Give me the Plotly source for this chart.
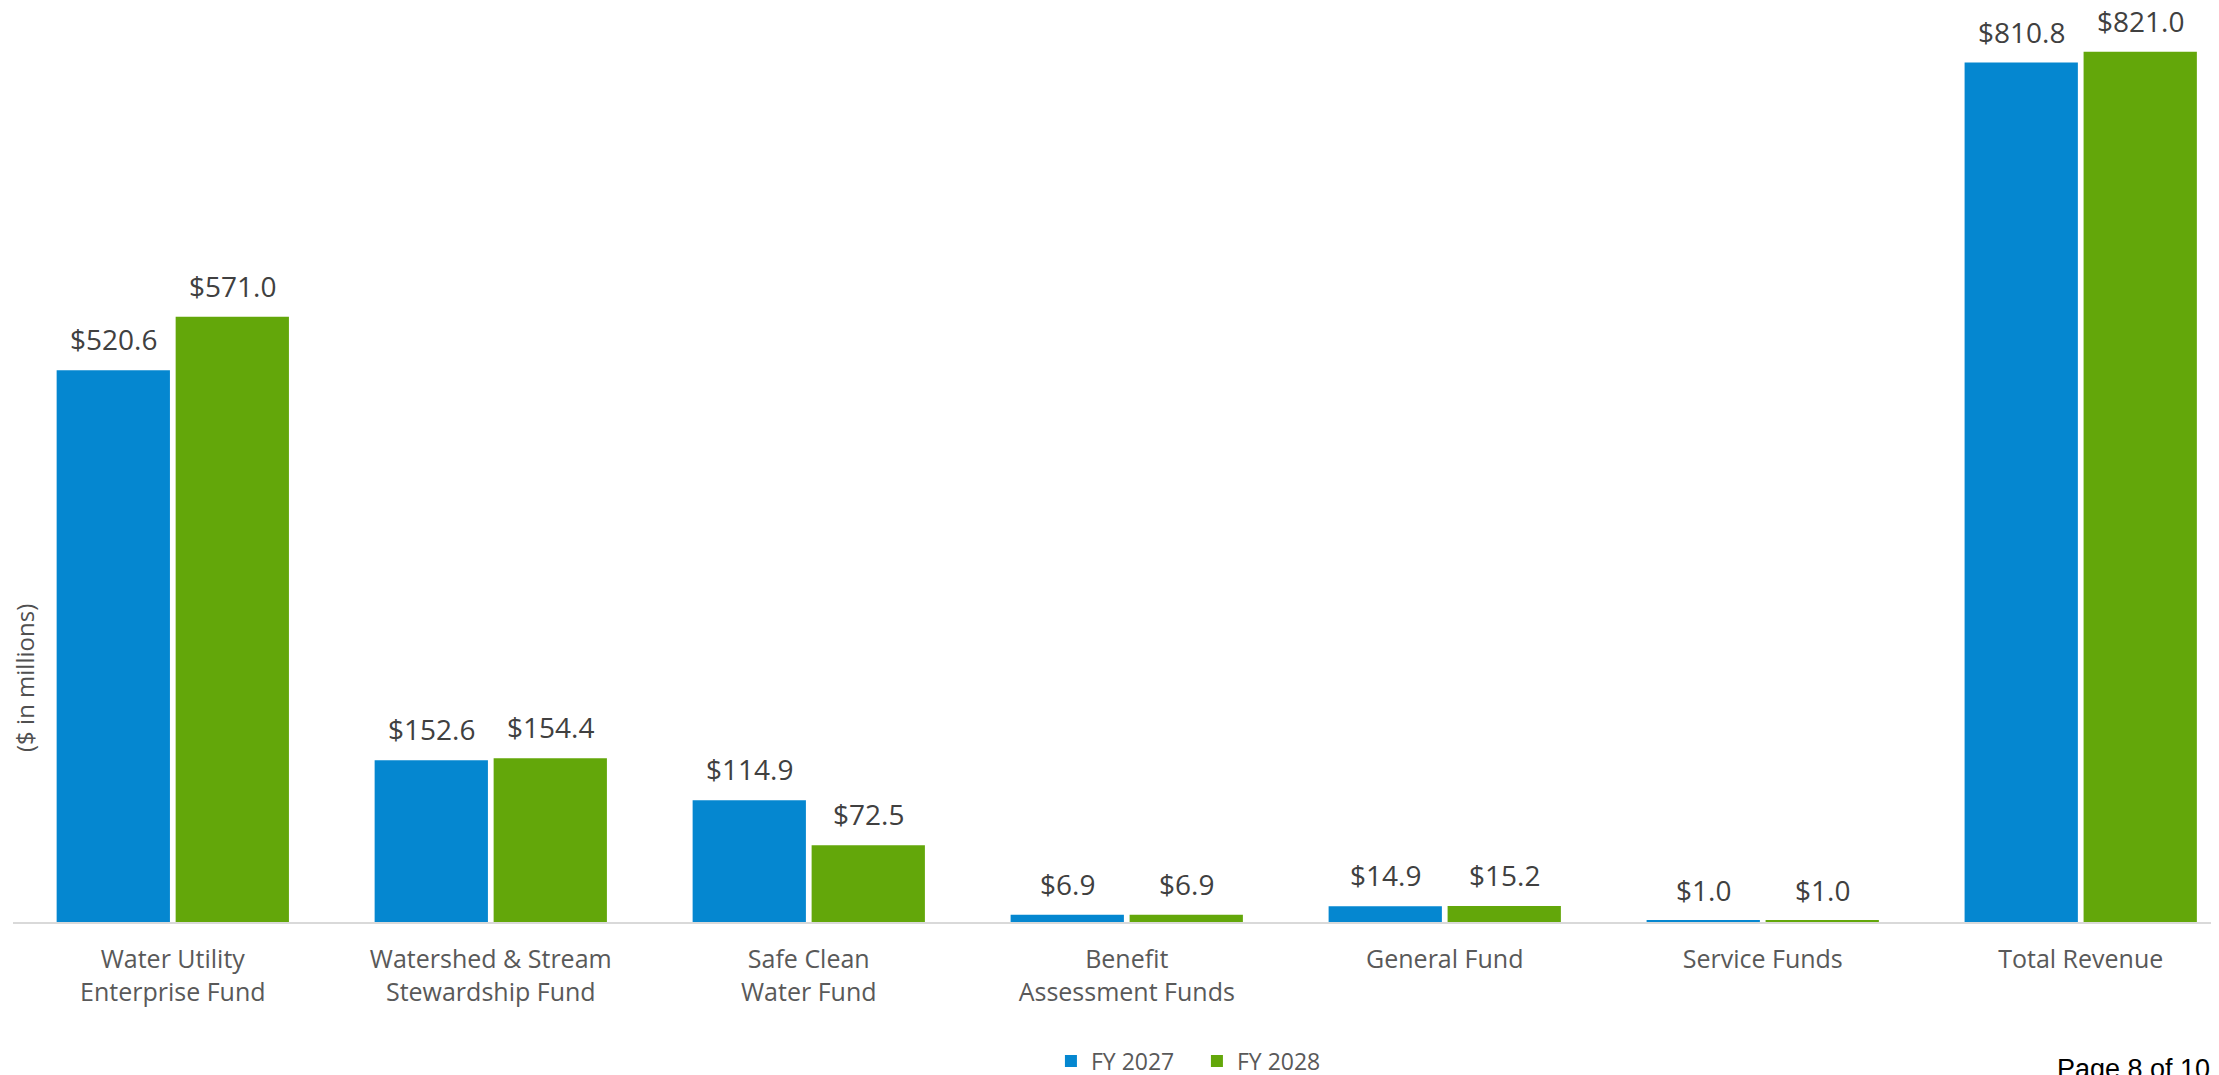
import plotly.graph_objects as go

categories = ["Water Utility<br>Enterprise Fund", "Watershed & Stream<br>Stewardship Fund",
              "Safe Clean<br>Water Fund", "Benefit<br>Assessment Funds", "General Fund",
              "Service Funds", "Total Revenue"]
fy2027 = [520.6, 152.6, 114.9, 6.9, 14.9, 1.0, 810.8]
fy2028 = [571.0, 154.4, 72.5, 6.9, 15.2, 1.0, 821.0]
series_names = ["FY 2027", "FY 2028"]
colors = ["#0587D0", "#63A70A"]

FONT = "Open Sans, sans-serif"
W, H = 2219, 1075
ML, MR, MT, MB = 5, 0, 0, 161

fig = go.Figure()
for name, vals, col in zip(series_names, [fy2027, fy2028], colors):
    fig.add_trace(go.Bar(name=name, x=categories, y=vals, marker_color=col,
                         marker_line_width=0, hoverinfo="skip"))

offsets = [-59.5, 59.5]
for vals, dx in zip([fy2027, fy2028], offsets):
    for c, v in zip(categories, vals):
        fig.add_annotation(x=c, y=v, xref="x", yref="y", text=f"${v:,.1f}",
                           showarrow=False, xshift=dx, yanchor="bottom", yshift=10,
                           font=dict(family=FONT, size=28, color="#404040"))

fig.add_annotation(text="($ in millions)", xref="paper", yref="paper", x=0, y=0.267,
                   xanchor="center", yanchor="middle", xshift=12, textangle=-90,
                   showarrow=False, font=dict(family=FONT, size=24, color="#505050"))
fig.add_annotation(text="Page 8 of 108", xref="paper", yref="paper", x=0.9223, y=-0.1605,
                   xanchor="left", yanchor="middle", showarrow=False,
                   font=dict(family="Liberation Sans, Arial, sans-serif", size=27, color="#000000"))

fig.update_layout(
    width=W, height=H,
    margin=dict(l=ML, r=MR, t=MT, b=MB),
    paper_bgcolor="white", plot_bgcolor="white",
    barmode="group", bargap=0.2516, bargroupgap=0.048,
    font=dict(family=FONT, color="#595959"),
    showlegend=True,
    legend=dict(orientation="h", xref="container", yref="container",
                x=0.4700, y=0.0205, xanchor="left", yanchor="middle",
                font=dict(family=FONT, size=23, color="#595959"),
                itemwidth=30, entrywidth=101, traceorder="normal"),
    xaxis=dict(range=[-0.5025, 6.460], showline=True, linecolor="#d9d9d9", linewidth=2,
               ticks="", ticklabelstandoff=14,
               tickfont=dict(family=FONT, size=25, color="#595959"),
               showgrid=False, zeroline=False),
    yaxis=dict(range=[0, 862.3], visible=False, showgrid=False, zeroline=False),
)

fig.write_html("out.html")
